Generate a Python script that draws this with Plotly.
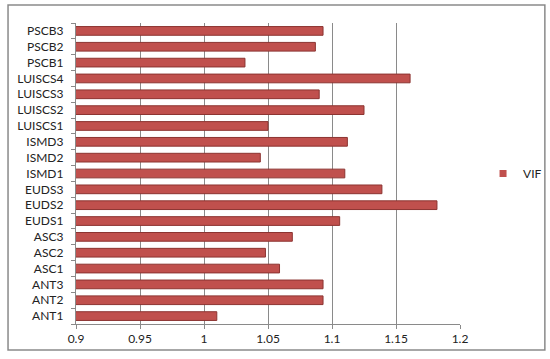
import plotly.graph_objects as go

# VIF per item (bottom to top)
items = ["ANT1", "ANT2", "ANT3", "ASC1", "ASC2", "ASC3",
         "EUDS1", "EUDS2", "EUDS3", "ISMD1", "ISMD2", "ISMD3",
         "LUISCS1", "LUISCS2", "LUISCS3", "LUISCS4",
         "PSCB1", "PSCB2", "PSCB3"]
vif = [1.010, 1.093, 1.093, 1.059, 1.048, 1.069,
       1.106, 1.182, 1.139, 1.110, 1.044, 1.112,
       1.050, 1.125, 1.090, 1.161,
       1.032, 1.087, 1.093]
x_ticks = [0.9, 0.95, 1, 1.05, 1.1, 1.15, 1.2]

bar_color = "#C0504D"

fig = go.Figure()
fig.add_trace(go.Bar(
    y=items, x=vif, orientation="h", name="VIF", showlegend=False,
    marker=dict(color=bar_color, line=dict(color="#8C3431", width=1)),
))
# small square legend key like the original
fig.add_trace(go.Scatter(
    x=[None], y=[None], mode="markers", name="VIF",
    marker=dict(symbol="square", size=7, color=bar_color),
))

fig.update_layout(
    width=550, height=359,
    margin=dict(l=76, r=90, t=23, b=35, autoexpand=False),
    paper_bgcolor="white", plot_bgcolor="white",
    font=dict(family="Lato, Open Sans, sans-serif", size=12, color="#222"),
    bargap=0.45,
    showlegend=True,
    legend=dict(x=1.06, y=0.5, xanchor="left", yanchor="middle",
                itemwidth=30, font=dict(size=12), bgcolor="rgba(0,0,0,0)"),
    shapes=[dict(type="rect", xref="paper", yref="paper",
                 x0=-0.177, x1=1.221, y0=-0.086, y1=1.06,
                 line=dict(color="#8A8A8A", width=1.5))],
)
fig.update_xaxes(range=[0.9, 1.2], tickvals=x_ticks,
                 ticktext=[str(t) for t in x_ticks],
                 showgrid=True, gridcolor="#8A8A8A", gridwidth=1,
                 showline=True, linecolor="#8A8A8A",
                 ticks="outside", ticklen=4, tickcolor="#8A8A8A",
                 zeroline=False, automargin=False)
fig.update_yaxes(showgrid=False, showline=True, linecolor="#8A8A8A",
                 ticks="outside", tickson="boundaries", ticklen=4,
                 tickcolor="#8A8A8A", automargin=False,
                 tickmode="array", tickvals=items,
                 ticktext=[s + "\u00a0\u00a0\u00a0" for s in items],
                 categoryorder="array", categoryarray=items)

# drop the browser's default body margin so the figure sits at 0,0
fig.write_html("out.html", config={"displayModeBar": False},
               post_script="document.body.style.margin='0';")
